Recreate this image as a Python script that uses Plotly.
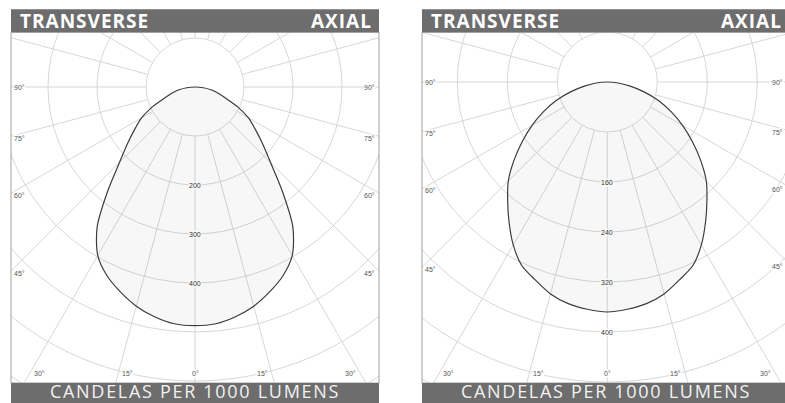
import numpy as np
import plotly.graph_objects as go

# ---------------- data ----------------
angles_deg = [0, 5, 10, 15, 20, 25, 30, 35, 40, 45, 50, 55, 60, 65, 70, 75, 80, 85, 90]
# left chart (candelas per 1000 lumens)
left_cd = [487, 485, 476, 463, 445, 425, 397, 348, 277, 218, 180, 150, 126, 96, 66, 48, 33, 17, 0]
# right chart
right_cd = [368, 365, 360, 351, 337, 324, 301, 274, 248, 224, 195, 166, 139, 113, 87, 61, 36, 18, 0]

left_rings = [100, 200, 300, 400, 500, 600, 700, 800]
left_ring_labels = [200, 300, 400]
right_rings = [80, 160, 240, 320, 400, 480, 560, 640, 720]
right_ring_labels = [160, 240, 320, 400]

spoke_angles = list(range(0, 360, 15))
side_angle_labels = [90, 75, 60, 45]
bottom_angle_labels = [30, 15, 0]

header_left = "TRANSVERSE"
header_right = "AXIAL"
footer_text = "CANDELAS PER 1000 LUMENS"

# ---------------- styling / geometry ----------------
W, H = 785, 403
GRID = "#d3d3d3"
BAR = "#6d6d6d"
CURVE = "#3c3c3c"
FILLC = "rgba(0,0,0,0.03)"
FONT = "Open Sans"
SMALL = dict(family="Liberation Sans", size=7, color="#555555")

panels = [
    dict(ax="x", ay="y", left=11, right=379, vis_right=379, top=32.3, bottom=383,
         cx=195, cy=87, s=0.49, cd=left_cd, rings=left_rings, labels=left_ring_labels,
         label_bg=["#f8f8f8", "#f8f8f8", "#f8f8f8"], axial_right=372, label_right=376),
    dict(ax="x2", ay="y2", left=422, right=790, vis_right=785, top=32.3, bottom=383,
         cx=607.3, cy=82, s=0.625, cd=right_cd, rings=right_rings, labels=right_ring_labels,
         label_bg=["#f8f8f8", "#f8f8f8", "#f8f8f8", "#ffffff"], axial_right=782, label_right=784),
]


def px(x):
    return x / W


def py(y):
    return 1 - y / H


fig = go.Figure()
shapes = []
annotations = []

for i, p in enumerate(panels):
    s = p["s"]
    xr = [(p["left"] - p["cx"]) / s, (p["vis_right"] - p["cx"]) / s]
    x_full_right = (p["right"] - p["cx"]) / s
    yr = [-(p["bottom"] - p["cy"]) / s, (p["cy"] - p["top"]) / s]
    suffix = "" if i == 0 else "2"
    fig.update_layout({
        "xaxis" + suffix: dict(domain=[px(p["left"]), px(p["vis_right"])], range=xr,
                               showgrid=False, zeroline=False, showticklabels=False,
                               ticks="", showline=False, fixedrange=True, anchor="y" + suffix),
        "yaxis" + suffix: dict(domain=[py(p["bottom"]), py(p["top"])], range=yr,
                               showgrid=False, zeroline=False, showticklabels=False,
                               ticks="", showline=False, fixedrange=True, anchor="x" + suffix),
    })
    xref, yref = p["ax"], p["ay"]

    # rings
    for r in p["rings"]:
        shapes.append(dict(type="circle", xref=xref, yref=yref, x0=-r, x1=r, y0=-r, y1=r,
                           line=dict(color=GRID, width=0.9), layer="below"))
    # spokes
    r0 = p["rings"][0]
    r1 = 3000
    for a in spoke_angles:
        t = np.radians(a)
        shapes.append(dict(type="line", xref=xref, yref=yref,
                           x0=r0 * np.sin(t), y0=-r0 * np.cos(t),
                           x1=r1 * np.sin(t), y1=-r1 * np.cos(t),
                           line=dict(color=GRID, width=0.9), layer="below"))

    # intensity curve (mirrored both halves)
    th = [-a for a in reversed(angles_deg)] + angles_deg[1:]
    rr = list(reversed(p["cd"])) + p["cd"][1:]
    th = np.radians(th)
    rr = np.array(rr, dtype=float)
    fig.add_trace(go.Scatter(x=rr * np.sin(th), y=-rr * np.cos(th), mode="lines",
                             line=dict(color=CURVE, width=1.2, shape="spline", smoothing=0.8),
                             fill="toself", fillcolor=FILLC, hoverinfo="skip",
                             xaxis=xref, yaxis=yref))

    # ring labels
    for v, bg in zip(p["labels"], p["label_bg"]):
        annotations.append(dict(x=0, y=-v, xref=xref, yref=yref, text=str(v), showarrow=False,
                                font=dict(family="Liberation Sans", size=7, color="#333333"),
                                bgcolor=bg, borderpad=0, xanchor="center", yanchor="middle"))

    # side angle labels
    right_anchor = xr[1] - 1e-3
    right_shift = (p["label_right"] - p["vis_right"])
    for a in side_angle_labels:
        t = np.radians(a)
        yl = 0 if a == 90 else -abs(xr[0]) / np.tan(t)
        yrr = 0 if a == 90 else -abs(x_full_right) / np.tan(t)
        annotations.append(dict(x=xr[0], y=yl, xref=xref, yref=yref, text=f"{a}°",
                                showarrow=False, xanchor="left", yanchor="middle", xshift=2,
                                yshift=-2 if a != 90 else 0, font=SMALL,
                                bgcolor="#ffffff", borderpad=0))
        annotations.append(dict(x=right_anchor, y=yrr, xref=xref, yref=yref, text=f"{a}°",
                                showarrow=False, xanchor="right", yanchor="middle",
                                xshift=right_shift,
                                yshift=-2 if a != 90 else 0, font=SMALL,
                                bgcolor="#ffffff", borderpad=0))
    # bottom angle labels
    yb = -(373 - p["cy"]) / s
    for a in bottom_angle_labels:
        t = np.radians(a)
        xb = abs(yb) * np.tan(t)
        if a == 0:
            annotations.append(dict(x=0, y=yb, xref=xref, yref=yref, text="0°", showarrow=False,
                                    xanchor="center", yanchor="middle", font=SMALL,
                                    bgcolor="#ffffff", borderpad=0))
        else:
            for sign, anc, sh in [(-1, "left", 3), (1, "right", -3)]:
                annotations.append(dict(x=sign * xb, y=yb, xref=xref, yref=yref, text=f"{a}°",
                                        showarrow=False, xanchor=anc, yanchor="middle", xshift=sh,
                                        font=SMALL, bgcolor="#ffffff", borderpad=0))

    # frame border
    shapes.append(dict(type="rect", xref="paper", yref="paper",
                       x0=px(p["left"]), x1=px(p["right"]), y0=py(p["bottom"]), y1=py(p["top"]),
                       line=dict(color="#a0a0a0", width=1), layer="above"))
    # header bar
    shapes.append(dict(type="rect", xref="paper", yref="paper",
                       x0=px(p["left"]), x1=px(p["right"]), y0=py(32.3), y1=py(9.3),
                       fillcolor=BAR, line=dict(width=0), layer="above"))
    # footer bar
    shapes.append(dict(type="rect", xref="paper", yref="paper",
                       x0=px(p["left"]), x1=px(p["right"]), y0=py(410), y1=py(383),
                       fillcolor=BAR, line=dict(width=0), layer="above"))
    annotations.append(dict(x=px(p["left"] + 8), y=py(21), xref="paper", yref="paper",
                            text='<span style="letter-spacing:1px"><b>' + header_left + "</b></span>",
                            showarrow=False, xanchor="left", yanchor="middle", borderpad=0,
                            font=dict(family=FONT, size=19, color="#ffffff")))
    annotations.append(dict(x=px(p["axial_right"] + 1), y=py(21), xref="paper", yref="paper",
                            text='<span style="letter-spacing:1px"><b>' + header_right + "</b></span>",
                            showarrow=False, xanchor="right", yanchor="middle", borderpad=0,
                            font=dict(family=FONT, size=19, color="#ffffff")))
    annotations.append(dict(x=px((p["left"] + p["right"]) / 2), y=py(391), xref="paper",
                            yref="paper",
                            text='<span style="letter-spacing:1.7px">' + footer_text + "</span>",
                            showarrow=False, xanchor="center", yanchor="middle", borderpad=0,
                            font=dict(family=FONT, size=18, color="#f2f2f2")))

fig.update_layout(width=W, height=H, margin=dict(l=0, r=0, t=0, b=0),
                  paper_bgcolor="white", plot_bgcolor="white", showlegend=False,
                  shapes=shapes, annotations=annotations)

fig.write_html("out.html", config={"displayModeBar": False},
               post_script="document.body.style.margin='0';document.body.style.padding='0';"
                           "document.body.style.overflow='hidden';")
